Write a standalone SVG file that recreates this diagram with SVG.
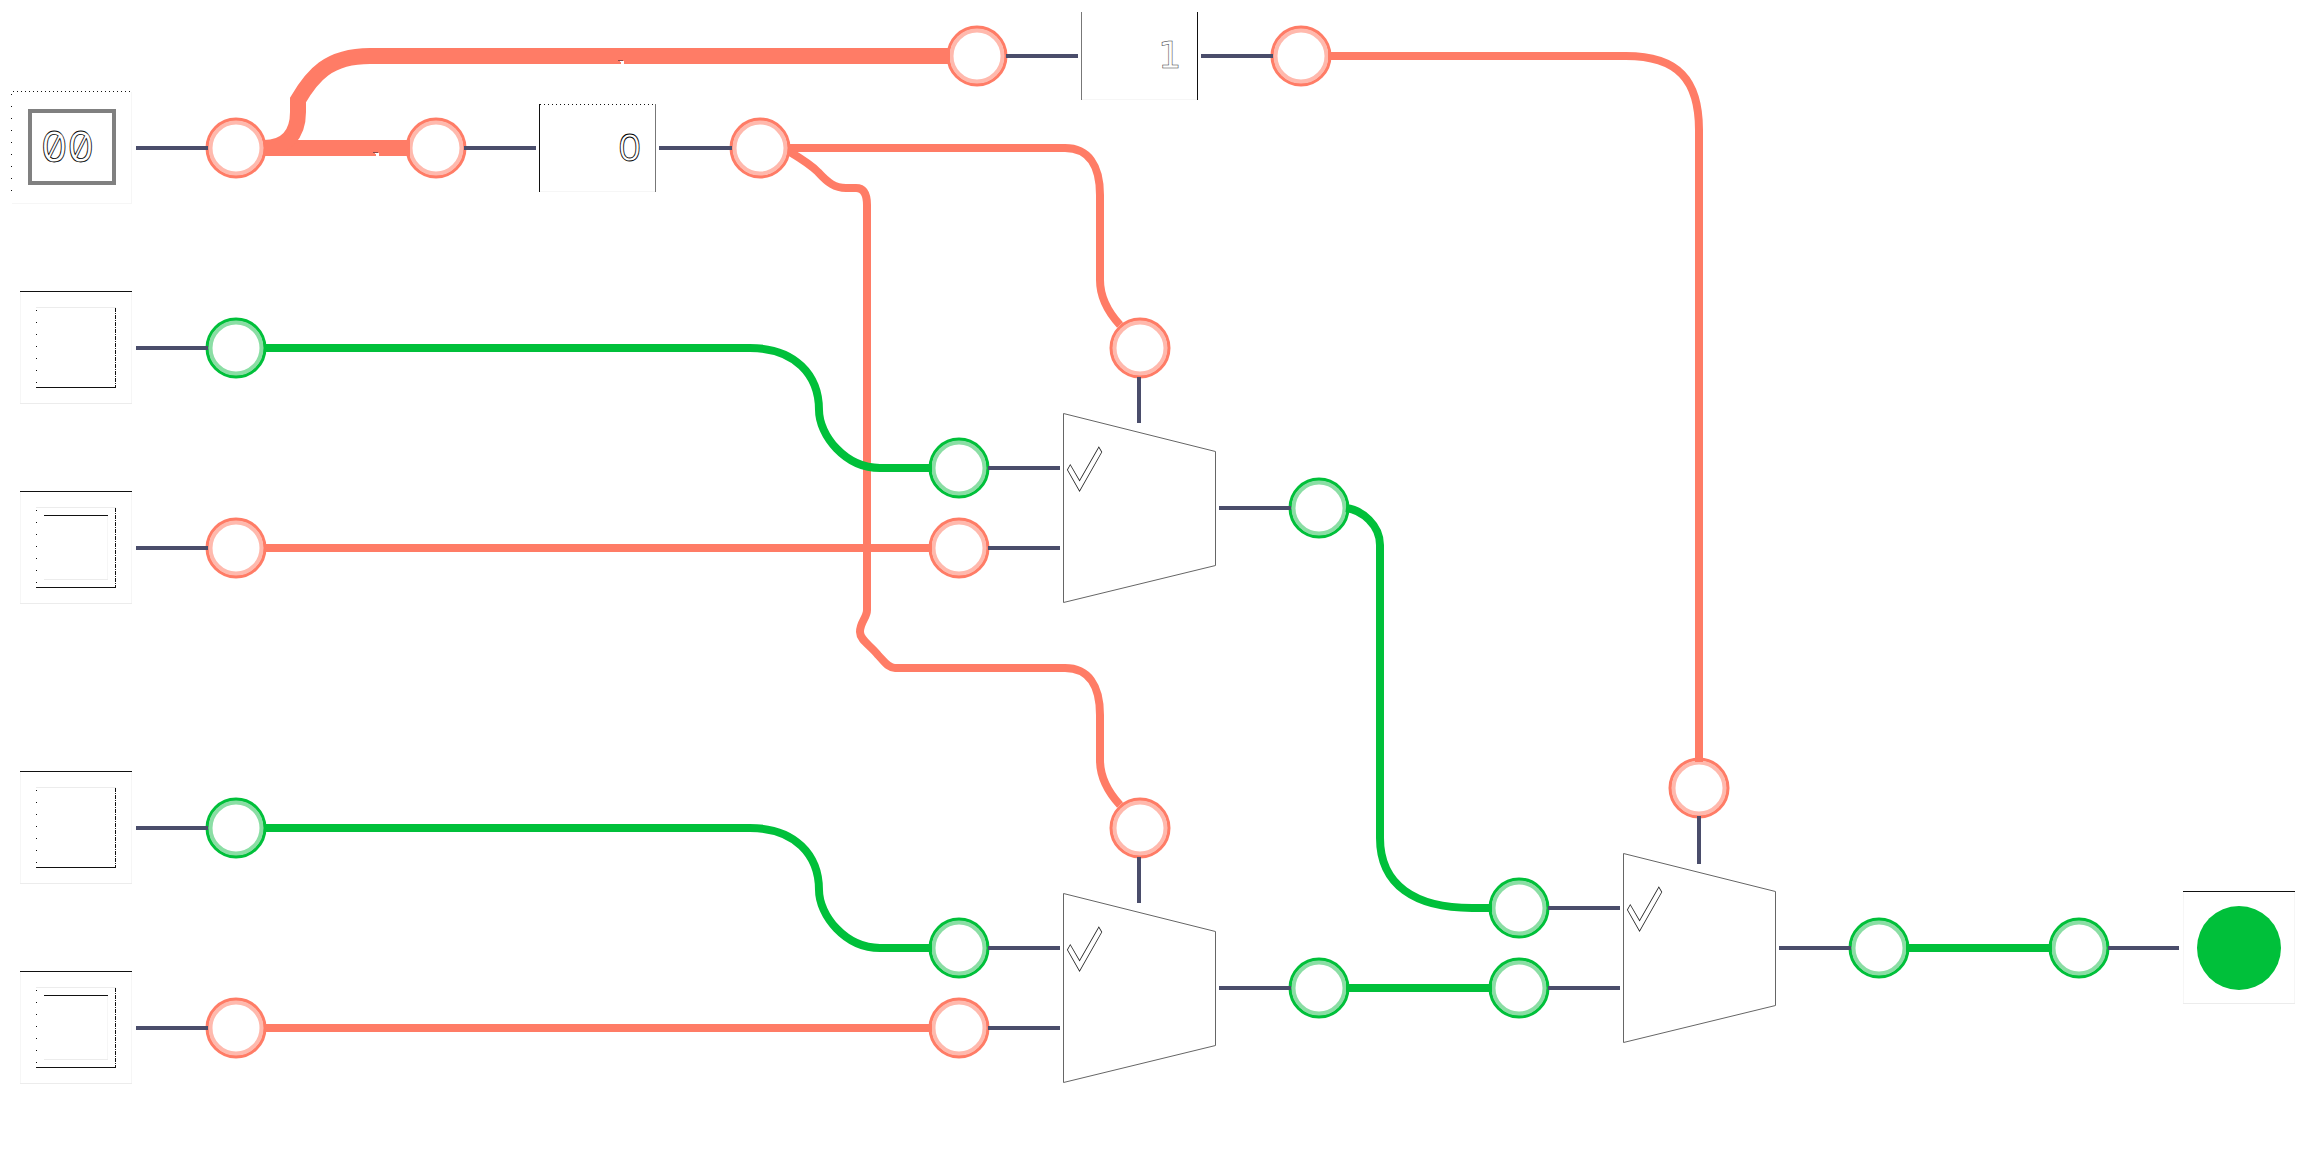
<svg xmlns="http://www.w3.org/2000/svg" xmlns:xlink="http://www.w3.org/1999/xlink" width="2307" height="1152" viewBox="0 0 2307 1152">
<style>
.bg{fill:#fff}
.w{stroke:#4a4d6b;stroke-width:4;fill:none}
.r{stroke:#ff7c66;stroke-width:8;fill:none}
.g{stroke:#00c03a;stroke-width:8;fill:none}
.thick{stroke-width:16}
.ro{fill:none;stroke:#ff7c66;stroke-width:3.4}
.ri{fill:#fff;stroke:#ffb9ad;stroke-width:4}
.go{fill:none;stroke:#00c03a;stroke-width:3.4}
.gi{fill:#fff;stroke:#8adea4;stroke-width:4}
.k{stroke:#111;stroke-width:1;fill:none}
.f{stroke:#ececec;stroke-width:1;fill:none}
.f2{stroke:#f6f6f6;stroke-width:1;fill:none}
.gy{stroke:#777;stroke-width:1;fill:none}
.dt{stroke:#111;stroke-width:1;fill:none;stroke-dasharray:1 3}
.dl{stroke:#111;stroke-width:1;fill:none;stroke-dasharray:1 11}
.dr{stroke:#111;stroke-width:1;fill:none;stroke-dasharray:4 1 1 1}
.mux{fill:#fff;stroke:#666;stroke-width:1}
.t{fill:#fff;stroke:#000;stroke-width:.8;font-family:Inter,sans-serif}
.sz{font-variant-numeric:slashed-zero}
.chk{font-family:Inter,sans-serif;font-size:50px;fill:#fff;stroke:#222;stroke-width:.9;vector-effect:non-scaling-stroke}
</style>
<defs>
<g id="redNode"><circle r="28.800" class="ro"/><circle r="25.500" class="ri"/></g>
<g id="greenNode"><circle r="28.800" class="go"/><circle r="25.500" class="gi"/></g>
<g id="inBox">
<path class="k" d="M20 -56.500H132"/><path class="f2" d="M20.500 -56V55M131.500 -56V55"/><path class="f" d="M20 55.500H132"/>
<path class="f" d="M36 -40.500H116"/><path class="dl" d="M36.500 -38V39"/><path class="dr" d="M115.500 -40V40"/><path class="k" d="M36 39.500H116"/>
</g>
<g id="innerBox"><path class="k" d="M44 -32.500H108"/><path class="f" d="M44 31.500H108"/><path class="f2" d="M107.500 -32V31"/></g>
</defs>
<rect class="bg" width="2307" height="1152"/>

<g id="n-input-00">
<path class="dt" d="M13 91.500H132"/><path class="dl" d="M11.500 94V196"/><path class="f2" d="M131.500 92V203M12 203.500H132"/>
<rect x="30" y="111" width="84" height="72" fill="#fff" stroke="#808080" stroke-width="4"/>
<text class="t sz" x="41" y="161.500" font-size="42">00</text>
</g>
<g id="n-input-a"><use href="#inBox" y="348"/></g>
<g id="n-input-b"><use href="#inBox" y="548"/><use href="#innerBox" y="548"/></g>
<g id="n-input-c"><use href="#inBox" y="828"/></g>
<g id="n-input-d"><use href="#inBox" y="1028"/><use href="#innerBox" y="1028"/></g>

<g id="n-const-0">
<path class="dt" d="M540 104.500H655"/><path class="k" d="M539.500 104V192"/><path class="gy" d="M655.500 104V192"/><path class="f2" d="M540 191.500H655"/>
<text class="t" x="618" y="161" font-size="37">0</text>
</g>
<g id="n-const-1">
<path class="gy" d="M1081.500 12V100"/><path class="k" d="M1197.500 12V100"/><path class="f2" d="M1082 99.500H1197"/>
<text x="1158" y="68" fill="#fff" stroke="#333" stroke-width=".5" font-family="'DejaVu Sans',sans-serif" font-size="37">1</text>
</g>

<g id="n-mux-1"><path class="mux" d="M1063.500 413.500L1215.500 451.500V565.500L1063.500 602.500Z"/><text class="chk" transform="translate(1062 499) scale(1 1.76)">✓</text></g>
<g id="n-mux-2"><path class="mux" d="M1063.500 893.500L1215.500 931.500V1045.500L1063.500 1082.500Z"/><text class="chk" transform="translate(1062 979) scale(1 1.76)">✓</text></g>
<g id="n-mux-3"><path class="mux" d="M1623.500 853.500L1775.500 891.500V1005.500L1623.500 1042.500Z"/><text class="chk" transform="translate(1622 939) scale(1 1.76)">✓</text></g>

<g id="n-output">
<path class="k" d="M2183 891.500H2295"/><path class="f2" d="M2183.500 892V1003"/><path class="f" d="M2183 1003.500H2295"/><path class="f2" d="M2294.500 892V1003"/>
<circle cx="2239" cy="948" r="42" fill="#00c03a"/>
</g>

<g id="p-1"><use href="#redNode" x="236" y="148"/></g>
<g id="p-2"><use href="#redNode" x="436" y="148"/></g>
<g id="p-3"><use href="#redNode" x="760" y="148"/></g>
<g id="p-4"><use href="#redNode" x="977" y="56"/></g>
<g id="p-5"><use href="#redNode" x="1301" y="56"/></g>
<g id="p-6"><use href="#greenNode" x="236" y="348"/></g>
<g id="p-7"><use href="#redNode" x="236" y="548"/></g>
<g id="p-8"><use href="#greenNode" x="236" y="828"/></g>
<g id="p-9"><use href="#redNode" x="236" y="1028"/></g>
<g id="p-10"><use href="#redNode" x="1140" y="348"/></g>
<g id="p-11"><use href="#greenNode" x="959" y="468"/></g>
<g id="p-12"><use href="#redNode" x="959" y="548"/></g>
<g id="p-13"><use href="#redNode" x="1140" y="828"/></g>
<g id="p-14"><use href="#greenNode" x="959" y="948"/></g>
<g id="p-15"><use href="#redNode" x="959" y="1028"/></g>
<g id="p-16"><use href="#greenNode" x="1319" y="508"/></g>
<g id="p-17"><use href="#greenNode" x="1319" y="988"/></g>
<g id="p-18"><use href="#greenNode" x="1519" y="908"/></g>
<g id="p-19"><use href="#greenNode" x="1519" y="988"/></g>
<g id="p-20"><use href="#redNode" x="1699" y="788"/></g>
<g id="p-21"><use href="#greenNode" x="1879" y="948"/></g>
<g id="p-22"><use href="#greenNode" x="2079" y="948"/></g>

<g id="connectors">
<path class="w" d="M136 148H208M464 148H536M659 148H732M1006 56H1078M1201 56H1273"/>
<path class="w" d="M136 348H208M136 548H208M136 828H208M136 1028H208"/>
<path class="w" d="M988 468H1060M988 548H1060M988 948H1060M988 1028H1060"/>
<path class="w" d="M1139 377V423M1139 857V903M1699 816V864"/>
<path class="w" d="M1219 508H1291M1219 988H1291"/>
<path class="w" d="M1548 908H1620M1548 988H1620"/>
<path class="w" d="M1779 948H1851M2108 948H2179"/>

<path class="r thick" d="M264 148H410"/>
<path class="r thick" d="M264 148C285 148 298 135 298 112V100C312 76 328 56 370 56H950"/>
<path class="r" d="M788 148H1065C1088 148 1100 165 1100 195V280C1100 298 1108 312 1120 325"/>
<path class="r" d="M790 152C800 158 810 164 818 172C828 183 835 188 846 188H856C864 188 867 195 867 205V610C867 618 860 622 860 632C860 640 870 645 878 655C884 661 888 668 895 668H1065C1088 668 1100 685 1100 715V760C1100 778 1108 792 1120 805"/>
<path class="r" d="M1328 56H1626C1678 56 1699 80 1699 130V762"/>
<path class="r" d="M264 548H932M264 1028H932"/>
<path class="g" d="M264 348H750C795 348 819 375 819 410C819 435 845 468 880 468H932"/>
<path class="g" d="M264 828H750C795 828 819 855 819 890C819 915 845 948 880 948H932"/>
<path class="g" d="M1346 508C1362 510 1380 525 1380 545V838C1380 885 1415 908 1472 908H1492"/>
<path class="g" d="M1346 988H1492M1906 948H2052"/>
<path fill="#fff" d="M375 153h4v3h-3v-2h-1zM620 61h4v3h-3v-2h-1z"/>
<path fill="#8a4a4a" d="M373 152h5v1h-5zM618 60h5v1h-5z"/>
</g>
</svg>
